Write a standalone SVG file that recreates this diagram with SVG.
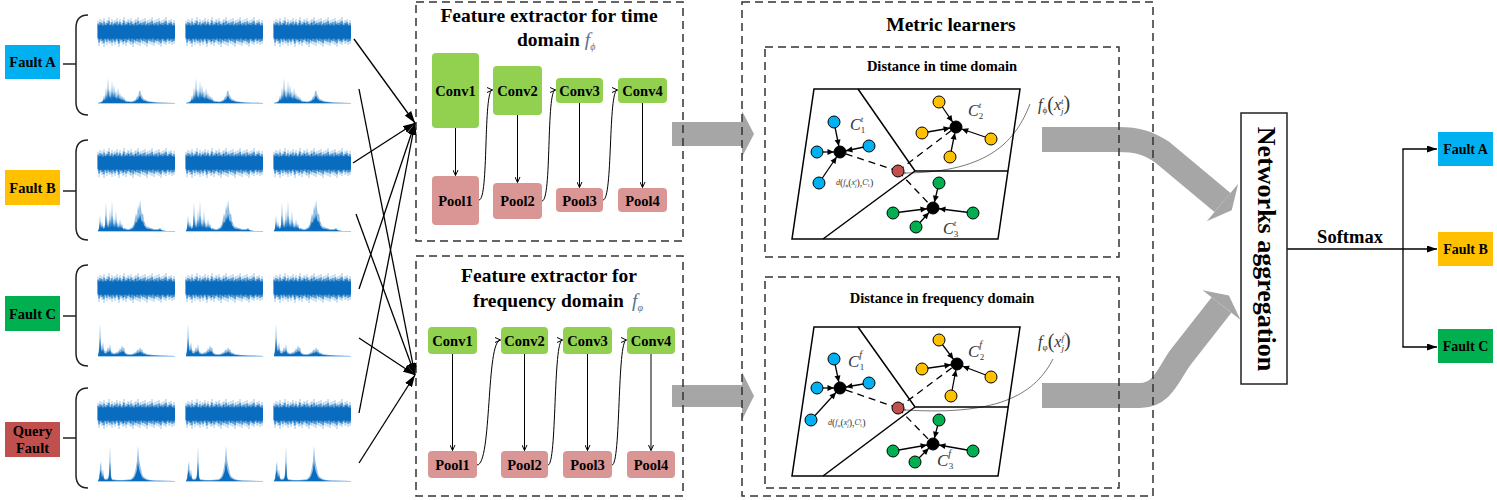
<svg xmlns="http://www.w3.org/2000/svg" width="1497" height="500" viewBox="0 0 1497 500">
<style>
.b{font-family:"Liberation Serif","Times New Roman",serif;font-weight:bold;fill:#000;}
.box{fill:none;stroke:#333;stroke-width:1.5;stroke-dasharray:8 5;}
.conv{fill:#92D050;}
.pool{fill:#D99694;}
.lbl{font-family:"Liberation Serif","Times New Roman",serif;font-weight:bold;font-size:14.5px;text-anchor:middle;fill:#000;}
.gr{fill:#A6A6A6;}
.ln{stroke:#000;stroke-width:1.3;fill:none;}
.thin{stroke:#000;stroke-width:1;fill:none;}
.cv{stroke:#555;stroke-width:0.8;fill:none;}
.dash{stroke:#000;stroke-width:1.3;stroke-dasharray:7 5;fill:none;}
.nd{stroke:#000;stroke-width:1;}
.cb{fill:#00B0F0}.cy{fill:#FFC000}.cg{fill:#00B050}.cr{fill:#C0504D}.ck{fill:#000}
.math{font-family:"Liberation Serif","Times New Roman",serif;fill:#333;}
.it{font-style:italic;}
.para{fill:none;stroke:#000;stroke-width:1.5;}
.sig{stroke:#0A6CBF;stroke-width:1.1;fill:none;}
.spf{fill:#0A6CBF;}
.spb{stroke:#a9cdee;stroke-width:1;}
.brace{fill:none;stroke:#222;stroke-width:1.5;}
</style>
<defs>
<marker id="ah" viewBox="0 0 12 8" refX="12" refY="4" markerWidth="12" markerHeight="8" markerUnits="userSpaceOnUse" orient="auto"><path d="M0,0 L12,4 L0,8 z" fill="#000"/></marker>
<marker id="oa" viewBox="0 0 6 6" refX="6" refY="3" markerWidth="6" markerHeight="6" markerUnits="userSpaceOnUse" orient="auto"><path d="M0.5,0.5 L6,3 L0.5,5.5" fill="none" stroke="#000" stroke-width="1"/></marker>
<marker id="na" viewBox="-16 -4 16 8" refX="0" refY="0" markerWidth="16" markerHeight="8" markerUnits="userSpaceOnUse" orient="auto"><path d="M-6,0 L-12.5,-3 L-12.5,3 z" fill="#000"/></marker>
<marker id="sa" viewBox="0 0 10 7" refX="10" refY="3.5" markerWidth="10" markerHeight="7" markerUnits="userSpaceOnUse" orient="auto"><path d="M0,0 L10,3.5 L0,7 z" fill="#000"/></marker>
<marker id="la" viewBox="0 0 6 6" refX="0.5" refY="3" markerWidth="6" markerHeight="6" markerUnits="userSpaceOnUse" orient="auto"><path d="M6,0.5 L0.5,3 L6,5.5" fill="none" stroke="#555" stroke-width="0.8"/></marker>
<path id="tsp" class="sig" d="M0-11V8M1-9V14M2-13V10M3-10V9M4-12V12M5-8V11M6-14V15M7-10V9M8-9V10M9-12V13M10-11V8M11-15V11M12-9V12M13-10V10M14-13V14M15-8V9M16-11V11M17-12V13M18-10V10M19-14V8M20-9V12M21-11V15M22-13V9M23-10V11M24-8V10M25-12V13M26-15V12M27-9V9M28-11V14M29-10V10M30-13V11M31-12V8M32-9V12M33-14V13M34-10V9M35-11V15M36-8V10M37-12V11M38-13V12M39-9V9M40-15V13M41-10V10M42-11V14M43-12V8M44-9V11M45-13V12M46-10V9M47-14V13M48-8V10M49-11V15M50-12V11M51-9V9M52-13V12M53-10V10M54-15V13M55-11V8M56-9V14M57-12V11M58-10V10M59-13V12M60-8V9M61-14V13M62-11V11M63-10V15M64-12V10M65-9V9M66-13V12M67-11V11M68-15V13M69-10V10M70-9V8M71-12V12M72-11V11M73-13V9M74-10V13M75-8V10M76-12V12"/>
<g id="ts"><use href="#tsp" opacity="0.35"/><use href="#tsp" transform="scale(1,0.75)" opacity="0.9"/><rect x="0" y="-6.5" width="77" height="13" fill="#0A6CBF"/></g>
<polygon id="pA" points="0,0 3,-1 5,-3 6,-8 7,-4 8,-16 9,-6 10,-25 11,-9 12,-14 13,-7 14,-22 15,-8 16,-18 17,-9 18,-12 19,-6 20,-15 21,-7 22,-10 23,-5 24,-8 25,-4 26,-6 27,-3 29,-2 31,-2 33,-1.5 35,-2 37,-3 38,-4 39,-7 40,-6 41,-11 42,-13 43,-9 44,-7 45,-5 46,-4 48,-3 50,-2 53,-1.5 56,-1 60,-0.5 77,0"/>
<polygon id="pB" points="0,0 1,-4 2,-16 3,-5 4,-10 5,-4 7,-6 8,-29 9,-6 10,-12 11,-5 12,-22 13,-6 14,-30 15,-7 16,-14 17,-5 18,-20 19,-6 20,-9 21,-4 22,-12 23,-5 24,-8 25,-3 27,-3 29,-2 31,-2 33,-3 35,-5 36,-8 37,-12 38,-18 39,-14 40,-26 41,-20 42,-31 43,-22 44,-16 45,-18 46,-10 47,-8 48,-5 50,-4 53,-3 56,-2 60,-2 62,-3 64,-1 68,0 77,0"/>
<polygon id="pC" points="0,0 1,-8 2,-32 3,-12 4,-8 5,-14 6,-6 7,-5 8,-4 9,-6 10,-9 11,-6 12,-12 13,-5 14,-4 15,-3 17,-3 19,-4 21,-5 22,-8 23,-6 24,-11 25,-7 26,-9 27,-4 28,-3 30,-2 32,-2 34,-2 36,-3 38,-4 40,-7 41,-5 42,-9 43,-6 44,-7 45,-4 47,-3 49,-2 52,-1.5 56,-1 62,-0.5 77,0"/>
<polygon id="pQ" points="0,0 1,-3 2,-14 3,-20 4,-6 5,-12 6,-3 8,-2 10,-3 11,-8 12,-35 13,-6 14,-2 16,-1.5 20,-1 25,-1 30,-1.5 33,-2 35,-4 36,-6 37,-9 38,-14 39,-20 40,-35 41,-22 42,-16 43,-12 44,-7 45,-5 47,-3 49,-2 52,-1 56,-0.5 77,0"/>
<g id="sA"><use href="#pA" class="spf" opacity="0.45"/><use href="#pA" class="spf" transform="scale(1,0.55)"/><line class="spb" x1="0" y1="0.5" x2="77" y2="0.5"/></g>
<g id="sB"><use href="#pB" class="spf" opacity="0.45"/><use href="#pB" class="spf" transform="scale(1,0.55)"/><line class="spb" x1="0" y1="0.5" x2="77" y2="0.5"/></g>
<g id="sC"><use href="#pC" class="spf" opacity="0.45"/><use href="#pC" class="spf" transform="scale(1,0.55)"/><line class="spb" x1="0" y1="0.5" x2="77" y2="0.5"/></g>
<g id="sQ"><use href="#pQ" class="spf" opacity="0.45"/><use href="#pQ" class="spf" transform="scale(1,0.55)"/><line class="spb" x1="0" y1="0.5" x2="77" y2="0.5"/></g>
</defs>
<rect x="0" y="0" width="1497" height="500" fill="#fff"/>

<!-- big grey arrows -->
<g id="flow-arrows">
<polygon class="gr" points="672,122 742,122 742,111 754,134 742,157 742,146 672,146"/>
<polygon class="gr" points="672,385 742,385 742,372 754,396 742,420 742,407 672,407"/>
<path d="M1042,139.5 H1118 C1138,139.5 1148,143 1162,152 L1222.5,202.5" fill="none" stroke="#A6A6A6" stroke-width="25"/>
<polygon class="gr" points="1238.2,183.7 1231.7,210.2 1206.8,221.3"/>
<path d="M1042,395.5 H1140 C1162,395.5 1168,375 1180,358 L1221.5,305" fill="none" stroke="#A6A6A6" stroke-width="25"/>
<polygon class="gr" points="1202.6,290.2 1228.9,295.5 1240.4,319.8"/>
</g>

<!-- containers -->
<g id="time-extractor-box">
<rect class="box" x="416" y="2" width="267" height="239"/>
<text class="b" x="549" y="22" font-size="19.5" text-anchor="middle">Feature extractor for time</text>
<text class="b" x="517" y="46" font-size="19.5">domain <tspan font-style="italic" font-weight="normal" fill="#5B6F8F">f</tspan><tspan font-style="italic" font-weight="normal" fill="#5B6F8F" font-size="10" dy="4">ϕ</tspan></text>
</g>
<g id="freq-extractor-box">
<rect class="box" x="416" y="256" width="267" height="240"/>
<text class="b" x="549" y="282" font-size="19.5" text-anchor="middle">Feature extractor for</text>
<text class="b" x="473" y="307" font-size="19.5">frequency domain<tspan x="632" font-style="italic" font-weight="normal" fill="#5B6F8F">f</tspan><tspan font-style="italic" font-weight="normal" fill="#5B6F8F" font-size="10" dy="4">φ</tspan></text>
</g>
<g id="metric-learners-box">
<rect class="box" x="742" y="2" width="411" height="494"/>
<text class="b" x="951" y="31" font-size="19.5" text-anchor="middle">Metric learners</text>
<rect class="box" x="765" y="47" width="354" height="210"/>
<text class="b" x="942" y="71" font-size="14.5" text-anchor="middle">Distance in time domain</text>
<rect class="box" x="765" y="277" width="354" height="211"/>
<text class="b" x="942" y="303" font-size="14.5" text-anchor="middle">Distance in frequency domain</text>
</g>

<!-- connectors -->
<g id="connectors">
<line class="ln" x1="354" y1="39" x2="415" y2="123" marker-end="url(#ah)"/>
<line class="ln" x1="353" y1="163" x2="415" y2="123" marker-end="url(#ah)"/>
<line class="ln" x1="359" y1="289" x2="415" y2="123" marker-end="url(#ah)"/>
<line class="ln" x1="359" y1="413" x2="415" y2="123" marker-end="url(#ah)"/>
<line class="ln" x1="359" y1="89" x2="415" y2="375" marker-end="url(#ah)"/>
<line class="ln" x1="356" y1="214" x2="415" y2="375" marker-end="url(#ah)"/>
<line class="ln" x1="359" y1="338" x2="415" y2="375" marker-end="url(#ah)"/>
<line class="ln" x1="359" y1="463" x2="415" y2="375" marker-end="url(#ah)"/>

<line class="thin" x1="455.5" y1="128" x2="455.5" y2="175.5" marker-end="url(#oa)"/>
<line class="thin" x1="517.5" y1="115" x2="517.5" y2="182.5" marker-end="url(#oa)"/>
<line class="thin" x1="579.5" y1="103" x2="579.5" y2="187.5" marker-end="url(#oa)"/>
<line class="thin" x1="642.5" y1="103" x2="642.5" y2="187.5" marker-end="url(#oa)"/>
<path class="thin" d="M479,200 C489,200 483,90 492.5,90" marker-end="url(#oa)"/>
<path class="thin" d="M542,201 C552,201 546,90 555.5,90" marker-end="url(#oa)"/>
<path class="thin" d="M603,200 C613,200 608,90 617.5,90" marker-end="url(#oa)"/>

<line class="thin" x1="452.5" y1="354" x2="452.5" y2="450.5" marker-end="url(#oa)"/>
<line class="thin" x1="524.5" y1="354" x2="524.5" y2="450.5" marker-end="url(#oa)"/>
<line class="thin" x1="587.5" y1="354" x2="587.5" y2="450.5" marker-end="url(#oa)"/>
<line class="thin" x1="651" y1="354" x2="651" y2="450.5" marker-end="url(#oa)"/>
<path class="thin" d="M477,465 C492,465 486,340 500.5,340" marker-end="url(#oa)"/>
<path class="thin" d="M548,465 C557,465 553,340 562.5,340" marker-end="url(#oa)"/>
<path class="thin" d="M612,465 C621,465 617,340 626.5,340" marker-end="url(#oa)"/>

<!-- metric time -->
<line class="dash" x1="898" y1="171" x2="840" y2="152"/>
<line class="dash" x1="898" y1="171" x2="956" y2="127"/>
<line class="dash" x1="898" y1="171" x2="933" y2="208"/>
<line class="ln" x1="834" y1="122" x2="840" y2="152" marker-end="url(#na)"/>
<line class="ln" x1="817" y1="152" x2="840" y2="152" marker-end="url(#na)"/>
<line class="ln" x1="869" y1="146" x2="840" y2="152" marker-end="url(#na)"/>
<line class="ln" x1="819" y1="183" x2="840" y2="152" marker-end="url(#na)"/>
<line class="ln" x1="939" y1="102" x2="956" y2="127" marker-end="url(#na)"/>
<line class="ln" x1="922" y1="133" x2="956" y2="127" marker-end="url(#na)"/>
<line class="ln" x1="991" y1="139" x2="956" y2="127" marker-end="url(#na)"/>
<line class="ln" x1="950" y1="157" x2="956" y2="127" marker-end="url(#na)"/>
<line class="ln" x1="939" y1="183" x2="933" y2="208" marker-end="url(#na)"/>
<line class="ln" x1="893" y1="213" x2="933" y2="208" marker-end="url(#na)"/>
<line class="ln" x1="916" y1="227" x2="933" y2="208" marker-end="url(#na)"/>
<line class="ln" x1="973" y1="213" x2="933" y2="208" marker-end="url(#na)"/>
<path class="cv" d="M1030,104 C1016,140 990,172 906,173" marker-end="url(#la)"/>

<!-- metric freq -->
<line class="dash" x1="898" y1="408" x2="840" y2="388"/>
<line class="dash" x1="898" y1="408" x2="957" y2="364"/>
<line class="dash" x1="898" y1="408" x2="933" y2="444"/>
<line class="ln" x1="834" y1="359" x2="840" y2="388" marker-end="url(#na)"/>
<line class="ln" x1="817" y1="388" x2="840" y2="388" marker-end="url(#na)"/>
<line class="ln" x1="869" y1="383" x2="840" y2="388" marker-end="url(#na)"/>
<line class="ln" x1="811" y1="420" x2="840" y2="388" marker-end="url(#na)"/>
<line class="ln" x1="939" y1="340" x2="957" y2="364" marker-end="url(#na)"/>
<line class="ln" x1="922" y1="369" x2="957" y2="364" marker-end="url(#na)"/>
<line class="ln" x1="991" y1="377" x2="957" y2="364" marker-end="url(#na)"/>
<line class="ln" x1="951" y1="396" x2="957" y2="364" marker-end="url(#na)"/>
<line class="ln" x1="939" y1="420" x2="933" y2="444" marker-end="url(#na)"/>
<line class="ln" x1="893" y1="451" x2="933" y2="444" marker-end="url(#na)"/>
<line class="ln" x1="915" y1="462" x2="933" y2="444" marker-end="url(#na)"/>
<line class="ln" x1="973" y1="451" x2="933" y2="444" marker-end="url(#na)"/>
<path class="cv" d="M1053,359 C1036,392 1002,416 906,410" marker-end="url(#la)"/>

<!-- softmax -->
<line class="ln" x1="1287" y1="249" x2="1437" y2="249" marker-end="url(#sa)"/>
<line class="ln" x1="1403" y1="149" x2="1403" y2="347"/>
<line class="ln" x1="1402.4" y1="149" x2="1437" y2="149" marker-end="url(#sa)"/>
<line class="ln" x1="1402.4" y1="347" x2="1437" y2="347" marker-end="url(#sa)"/>
</g>

<!-- input groups -->
<g id="input-fault-a">
<rect x="5" y="45" width="55" height="34" class="cb"/>
<text class="b" x="32.5" y="67" font-size="14.5" text-anchor="middle">Fault A</text>
<line class="brace" x1="63" y1="64" x2="76" y2="64"/>
<path class="brace" d="M88,15 Q76,15 76,28 V102 Q76,115 88,115"/>
<use href="#ts" x="98" y="32"/><use href="#ts" x="186" y="32"/><use href="#ts" x="274" y="32"/>
<use href="#sA" x="98" y="103"/><use href="#sA" x="186" y="103"/><use href="#sA" x="274" y="103"/>
</g>
<g id="input-fault-b">
<rect x="5" y="170" width="55" height="35" class="cy"/>
<text class="b" x="32.5" y="192.5" font-size="14.5" text-anchor="middle">Fault B</text>
<line class="brace" x1="63" y1="191" x2="76" y2="191"/>
<path class="brace" d="M88,140 Q76,140 76,153 V227 Q76,240 88,240"/>
<use href="#ts" x="98" y="163"/><use href="#ts" x="186" y="163"/><use href="#ts" x="274" y="163"/>
<use href="#sB" x="98" y="231"/><use href="#sB" x="186" y="231"/><use href="#sB" x="274" y="231"/>
</g>
<g id="input-fault-c">
<rect x="5" y="296" width="55" height="35" class="cg"/>
<text class="b" x="32.5" y="318.5" font-size="14.5" text-anchor="middle">Fault C</text>
<line class="brace" x1="63" y1="316" x2="76" y2="316"/>
<path class="brace" d="M88,265 Q76,265 76,278 V353 Q76,366 88,366"/>
<use href="#ts" x="98" y="288"/><use href="#ts" x="186" y="288"/><use href="#ts" x="274" y="288"/>
<use href="#sC" x="98" y="356"/><use href="#sC" x="186" y="356"/><use href="#sC" x="274" y="356"/>
</g>
<g id="input-query">
<rect x="5" y="422" width="55" height="35" class="cr"/>
<text class="b" x="32.5" y="435.5" font-size="14.5" text-anchor="middle">Query</text>
<text class="b" x="32.5" y="452.5" font-size="14.5" text-anchor="middle">Fault</text>
<line class="brace" x1="63" y1="438" x2="76" y2="438"/>
<path class="brace" d="M88,388 Q76,388 76,401 V475 Q76,488 88,488"/>
<use href="#ts" x="98" y="414"/><use href="#ts" x="186" y="414"/><use href="#ts" x="274" y="414"/>
<use href="#sQ" x="98" y="481"/><use href="#sQ" x="186" y="481"/><use href="#sQ" x="274" y="481"/>
</g>

<!-- time extractor layers -->
<g id="t-conv1"><rect class="conv" x="432" y="53" width="47" height="75" rx="4"/><text class="lbl" x="455.5" y="95.5">Conv1</text></g>
<g id="t-conv2"><rect class="conv" x="493" y="66" width="49" height="49" rx="4"/><text class="lbl" x="517.5" y="95.5">Conv2</text></g>
<g id="t-conv3"><rect class="conv" x="556" y="78" width="47" height="25" rx="4"/><text class="lbl" x="579.5" y="95.5">Conv3</text></g>
<g id="t-conv4"><rect class="conv" x="618" y="78" width="49" height="25" rx="4"/><text class="lbl" x="642.5" y="95.5">Conv4</text></g>
<g id="t-pool1"><rect class="pool" x="432" y="176" width="47" height="49" rx="4"/><text class="lbl" x="455.5" y="205.5">Pool1</text></g>
<g id="t-pool2"><rect class="pool" x="493" y="183" width="49" height="36" rx="4"/><text class="lbl" x="517.5" y="205.5">Pool2</text></g>
<g id="t-pool3"><rect class="pool" x="556" y="188" width="47" height="24" rx="4"/><text class="lbl" x="579.5" y="205.5">Pool3</text></g>
<g id="t-pool4"><rect class="pool" x="618" y="188" width="49" height="24" rx="4"/><text class="lbl" x="642.5" y="205.5">Pool4</text></g>

<!-- freq extractor layers -->
<g id="f-conv1"><rect class="conv" x="428" y="327" width="49" height="27" rx="4"/><text class="lbl" x="452.5" y="345.5">Conv1</text></g>
<g id="f-conv2"><rect class="conv" x="501" y="327" width="47" height="27" rx="4"/><text class="lbl" x="524.5" y="345.5">Conv2</text></g>
<g id="f-conv3"><rect class="conv" x="563" y="327" width="49" height="27" rx="4"/><text class="lbl" x="587.5" y="345.5">Conv3</text></g>
<g id="f-conv4"><rect class="conv" x="627" y="327" width="48" height="27" rx="4"/><text class="lbl" x="651" y="345.5">Conv4</text></g>
<g id="f-pool1"><rect class="pool" x="428" y="451" width="49" height="27" rx="4"/><text class="lbl" x="452.5" y="469.5">Pool1</text></g>
<g id="f-pool2"><rect class="pool" x="501" y="451" width="47" height="27" rx="4"/><text class="lbl" x="524.5" y="469.5">Pool2</text></g>
<g id="f-pool3"><rect class="pool" x="563" y="451" width="49" height="27" rx="4"/><text class="lbl" x="587.5" y="469.5">Pool3</text></g>
<g id="f-pool4"><rect class="pool" x="627" y="451" width="48" height="27" rx="4"/><text class="lbl" x="651" y="469.5">Pool4</text></g>

<!-- metric time domain -->
<g id="metric-time">
<polygon class="para" points="814,89 1020,89 998,239 792,239"/>
<polyline class="para" points="858,89 915,171 1008,171"/>
<line class="para" x1="915" y1="171" x2="823" y2="239"/>
<circle class="nd cb" cx="834" cy="122" r="6"/><circle class="nd cb" cx="817" cy="152" r="6"/><circle class="nd cb" cx="869" cy="146" r="6"/><circle class="nd cb" cx="819" cy="183" r="6"/>
<circle class="nd ck" cx="840" cy="152" r="6"/>
<circle class="nd cy" cx="939" cy="102" r="6"/><circle class="nd cy" cx="922" cy="133" r="6"/><circle class="nd cy" cx="991" cy="139" r="6"/><circle class="nd cy" cx="950" cy="157" r="6"/>
<circle class="nd ck" cx="956" cy="127" r="6"/>
<circle class="nd cg" cx="939" cy="183" r="6"/><circle class="nd cg" cx="893" cy="213" r="6"/><circle class="nd cg" cx="916" cy="227" r="6"/><circle class="nd cg" cx="973" cy="213" r="6"/>
<circle class="nd ck" cx="933" cy="208" r="6"/>
<circle class="nd cr" cx="898" cy="171" r="6"/>
<text class="math it" x="850" y="130" font-size="16">C<tspan font-size="9" dy="-8">t</tspan><tspan font-size="9" dx="-2.5" dy="11" font-style="normal">1</tspan></text>
<text class="math it" x="968" y="116" font-size="16">C<tspan font-size="9" dy="-8">t</tspan><tspan font-size="9" dx="-2.5" dy="11" font-style="normal">2</tspan></text>
<text class="math it" x="943" y="234" font-size="16">C<tspan font-size="9" dy="-8">t</tspan><tspan font-size="9" dx="-2.5" dy="11" font-style="normal">3</tspan></text>
<text class="math" x="836" y="185" font-size="8"><tspan font-style="italic">d</tspan><tspan font-size="10" dy="0.5">(</tspan><tspan font-style="italic" dy="-0.5">f</tspan><tspan font-size="5" dy="1.5">ϕ</tspan><tspan font-size="10" dy="-1">(</tspan><tspan font-style="italic" dy="-0.5">x</tspan><tspan font-size="5" font-style="italic" dy="-3">t</tspan><tspan font-size="5" font-style="italic" dx="-1.5" dy="4.5">j</tspan><tspan font-size="10" dy="-1">),</tspan><tspan font-style="italic" dy="-0.5">C</tspan><tspan font-size="5" font-style="italic" dy="-3">t</tspan><tspan font-size="5" dx="-1.5" dy="4.5">1</tspan><tspan font-size="10" dy="-1">)</tspan></text>
<text class="math" x="1038" y="110" font-size="16"><tspan font-style="italic">f</tspan><tspan font-size="9" dy="3">ϕ</tspan><tspan font-size="20" dy="-2">(</tspan><tspan font-style="italic" dy="-1">x</tspan><tspan font-size="9" font-style="italic" dy="-6">t</tspan><tspan font-size="9" font-style="italic" dx="-2.5" dy="10">j</tspan><tspan font-size="20" dy="-4">)</tspan></text>
</g>

<!-- metric frequency domain -->
<g id="metric-freq">
<polygon class="para" points="814,327 1020,327 998,476 792,476"/>
<polyline class="para" points="858,327 915,407 1008,407"/>
<line class="para" x1="915" y1="407" x2="823" y2="476"/>
<circle class="nd cb" cx="834" cy="359" r="6"/><circle class="nd cb" cx="817" cy="388" r="6"/><circle class="nd cb" cx="869" cy="383" r="6"/><circle class="nd cb" cx="811" cy="420" r="6"/>
<circle class="nd ck" cx="840" cy="388" r="6"/>
<circle class="nd cy" cx="939" cy="340" r="6"/><circle class="nd cy" cx="922" cy="369" r="6"/><circle class="nd cy" cx="991" cy="377" r="6"/><circle class="nd cy" cx="951" cy="396" r="6"/>
<circle class="nd ck" cx="957" cy="364" r="6"/>
<circle class="nd cg" cx="939" cy="420" r="6"/><circle class="nd cg" cx="893" cy="451" r="6"/><circle class="nd cg" cx="915" cy="462" r="6"/><circle class="nd cg" cx="973" cy="451" r="6"/>
<circle class="nd ck" cx="933" cy="444" r="6"/>
<circle class="nd cr" cx="898" cy="408" r="6"/>
<text class="math it" x="848" y="367" font-size="17">C<tspan font-size="10" dy="-9">f</tspan><tspan font-size="9" dx="-2.5" dy="12" font-style="normal">1</tspan></text>
<text class="math it" x="968" y="357" font-size="17">C<tspan font-size="10" dy="-9">f</tspan><tspan font-size="9" dx="-2.5" dy="12" font-style="normal">2</tspan></text>
<text class="math it" x="937" y="466" font-size="17">C<tspan font-size="10" dy="-9">f</tspan><tspan font-size="9" dx="-2.5" dy="12" font-style="normal">3</tspan></text>
<text class="math" x="828" y="425" font-size="8"><tspan font-style="italic">d</tspan><tspan font-size="10" dy="0.5">(</tspan><tspan font-style="italic" dy="-0.5">f</tspan><tspan font-size="5" dy="1.5">φ</tspan><tspan font-size="10" dy="-1">(</tspan><tspan font-style="italic" dy="-0.5">x</tspan><tspan font-size="5" font-style="italic" dy="-3">f</tspan><tspan font-size="5" font-style="italic" dx="-1.5" dy="4.5">j</tspan><tspan font-size="10" dy="-1">),</tspan><tspan font-style="italic" dy="-0.5">C</tspan><tspan font-size="5" font-style="italic" dy="-3">f</tspan><tspan font-size="5" dx="-1.5" dy="4.5">1</tspan><tspan font-size="10" dy="-1">)</tspan></text>
<text class="math" x="1038" y="347" font-size="16"><tspan font-style="italic">f</tspan><tspan font-size="9" dy="3">φ</tspan><tspan font-size="20" dy="-2">(</tspan><tspan font-style="italic" dy="-1">x</tspan><tspan font-size="9" font-style="italic" dy="-6">f</tspan><tspan font-size="9" font-style="italic" dx="-2.5" dy="10">j</tspan><tspan font-size="20" dy="-4">)</tspan></text>
</g>

<!-- aggregation -->
<g id="networks-aggregation">
<rect x="1241" y="113" width="46" height="271" fill="#fff" stroke="#222" stroke-width="1.5"/>
<text class="b" font-size="26" text-anchor="middle" transform="translate(1258,249) rotate(90)">Networks aggregation</text>
</g>
<text class="b" x="1350" y="243" font-size="18.5" text-anchor="middle">Softmax</text>

<g id="out-fault-a"><rect x="1438" y="132" width="55" height="34" class="cb"/><text class="b" x="1465.5" y="154" font-size="14" text-anchor="middle">Fault A</text></g>
<g id="out-fault-b"><rect x="1438" y="232" width="55" height="34" class="cy"/><text class="b" x="1465.5" y="254" font-size="14" text-anchor="middle">Fault B</text></g>
<g id="out-fault-c"><rect x="1438" y="329" width="55" height="34" class="cg"/><text class="b" x="1465.5" y="351" font-size="14" text-anchor="middle">Fault C</text></g>
</svg>
